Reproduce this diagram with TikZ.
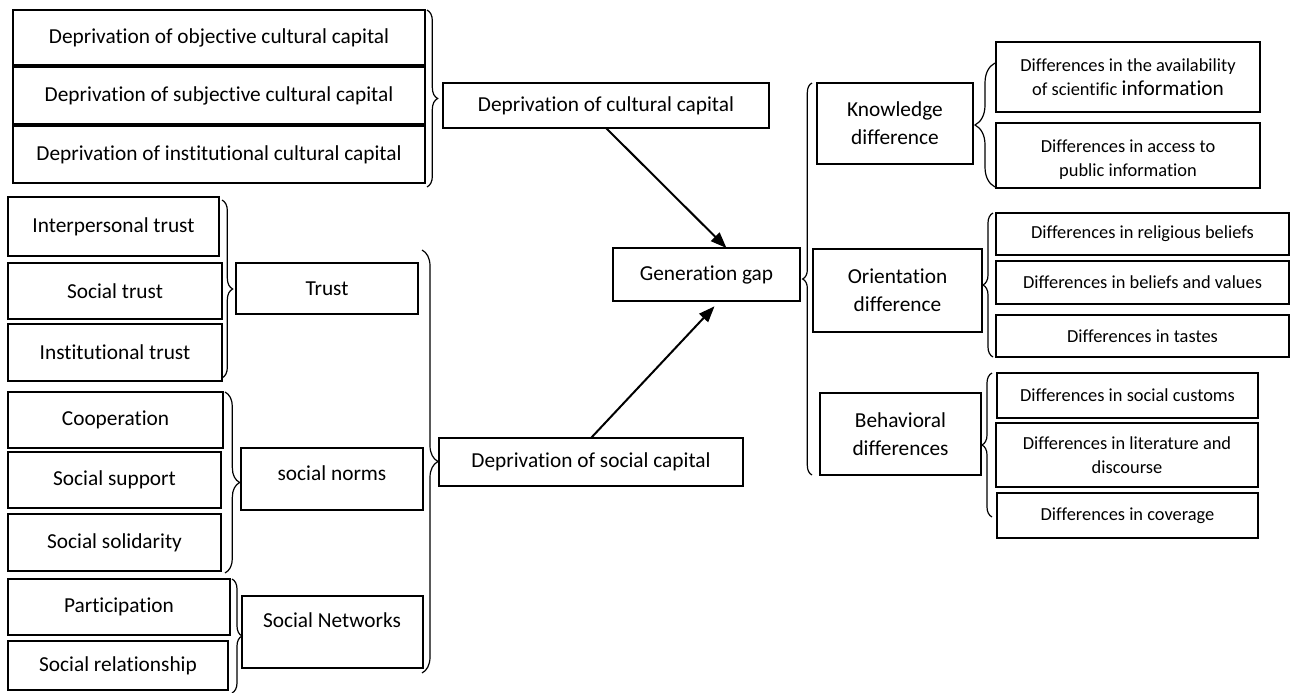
\documentclass[tikz,border=0pt]{standalone}
\usepackage{fontspec}
\setmainfont[Ligatures=NoCommon]{Carlito}
\usetikzlibrary{decorations.pathreplacing,arrows.meta,calc}
\newcommand\putbox[7][]{\node[box,#1,anchor=north west,minimum width={(#4-#2)*0.75pt},minimum height={(#5-#3)*0.75pt}] (#6) at (#2,#3) {#7};}
\begin{document}
\begin{tikzpicture}[x=0.75pt,y=-0.75pt,
  box/.style={draw,line width=1.1pt,inner sep=0pt,outer sep=0pt,align=center,font=\fontsize{16}{20}\selectfont},
  midbox/.style={line width=1pt,font=\fontsize{16}{21}\selectfont},
  smallbox/.style={line width=1.5pt,font=\fontsize{13.8}{18}\selectfont},
  brc/.style={decorate,decoration={brace,amplitude=#1},line width=0.9pt},
  arr/.style={line width=1.5pt,-{Triangle[length=12pt,width=9pt]}}]
\useasboundingbox (0,0) rectangle (1291,692);
% cultural capital
\putbox{13}{10}{425}{65}{o1}{Deprivation of objective cultural capital}
\putbox{13}{67}{425}{124}{o2}{Deprivation of subjective cultural capital}
\putbox{13}{126}{425}{183}{o3}{Deprivation of institutional cultural capital}
\draw[brc=8pt] (427,10) -- (427,187);
\putbox{443}{83}{769}{128}{cc}{Deprivation of cultural capital}
% trust
\putbox{8}{197}{219}{256}{t1}{Interpersonal trust}
\putbox{8}{263}{222}{319}{t2}{Social trust}
\putbox{8}{324}{222}{381}{t3}{Institutional trust}
\draw[brc=8pt] (222,200) -- (222,378);
\putbox{236}{263}{418}{314}{tr}{Trust}
% norms
\putbox{8}{392}{223}{448}{n1}{Cooperation}
\putbox{8}{452}{221}{508}{n2}{Social support}
\putbox{8}{514}{221}{571}{n3}{Social solidarity}
\draw[brc=11pt] (225,392) -- (225,573);
\putbox{241}{448}{423}{510}{sn}{}
\node[font=\fontsize{16}{20}\selectfont] (snt) at (332,473) {social norms};
% networks
\putbox{8}{579}{230}{635}{w1}{Participation}
\putbox{8}{641}{228}{690}{w2}{Social relationship}
\draw[brc=7.5pt] (232,579) -- (232,693);
\putbox{242}{596}{423}{668}{nw}{}
\node[font=\fontsize{16}{20}\selectfont] (nwt) at (332,620) {Social Networks};
% social capital
\draw[brc=12pt] (422,250) -- (422,673);
\putbox{439}{438}{743}{486}{sc}{Deprivation of social capital}
% generation gap
\putbox[font=\fontsize{16}{20}\selectfont]{613}{248}{800}{301}{gg}{Generation gap}
\draw[arr] (cc.south) -- ([xshift=15pt]gg.north);
\draw[arr] (sc.north) -- ([xshift=6pt,yshift=-4pt]gg.south);
% right side
\draw[brc=7pt] (812,475) -- (812,83);
\putbox[midbox]{817}{83}{973}{164}{kd}{Knowledge\\difference}
\putbox[midbox]{813}{249}{982}{332}{od}{Orientation\\difference}
\putbox[midbox]{820}{393}{981}{475}{bd}{Behavioral\\differences}
% knowledge
\draw[brc=15pt] (995,187) -- (995,63);
\putbox[smallbox]{996}{42}{1260}{112}{k1}{Differences in the availability\\of scientific {\fontsize{16}{18}\selectfont information}}
\putbox[smallbox]{996}{123}{1260}{188}{k2}{}
\begin{scope}
\clip (996,125) rectangle (1260,178);
\node[font=\fontsize{13.8}{18}\selectfont,align=center] (k2t) at (1128,160) {Differences in access to\\public information};
\end{scope}
% orientation
\draw[brc=7.5pt] (993,357) -- (993,213);
\putbox[smallbox]{996}{213}{1289}{255}{r1}{Differences in religious beliefs}
\putbox[smallbox]{996}{261}{1289}{304}{r2}{Differences in beliefs and values}
\putbox[smallbox]{996}{315}{1289}{357}{r3}{Differences in tastes}
% behavioral
\draw[brc=7.5pt] (992,517) -- (992,373);
\putbox[smallbox]{997}{373}{1258}{418}{b1}{Differences in social customs}
\putbox[smallbox]{996}{423}{1258}{487}{b2}{Differences in literature and\\discourse}
\putbox[smallbox]{997}{493}{1258}{538}{b3}{Differences in coverage}
\end{tikzpicture}
\end{document}
